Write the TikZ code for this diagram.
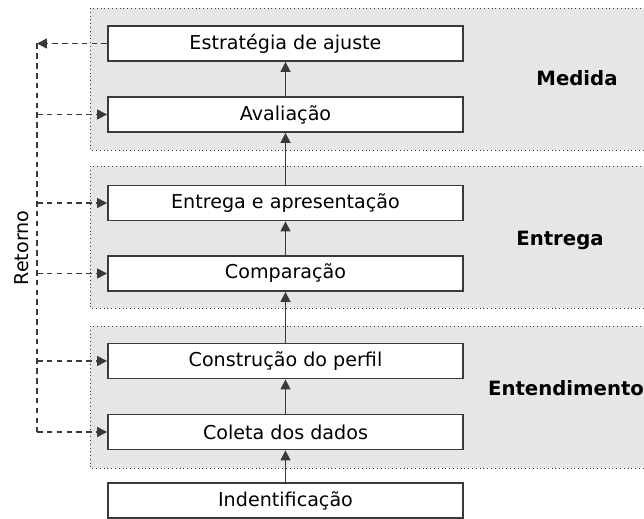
\documentclass[tikz,border=0pt]{standalone}
\usepackage{fontspec}
\setmainfont{DejaVu Sans}
\usetikzlibrary{arrows.meta}
\definecolor{grupo}{HTML}{E6E6E6}
\definecolor{traco}{HTML}{3A3A3A}
\begin{document}
\begin{tikzpicture}[x=0.025cm,y=-0.025cm,
    etapa/.style={draw=traco,line width=1.3pt,fill=white,minimum width=8.875cm,minimum height=0.875cm,inner sep=0pt,font=\fontsize{13.6}{16}\selectfont},
    fase/.style={fill=grupo,draw=traco,dotted,line width=0.7pt},
    rotulo/.style={font=\bfseries\fontsize{14}{16}\selectfont},
    ponta/.style={-{Triangle[length=7pt,width=7pt]}},
    fluxo/.style={ponta,draw=traco,line width=1.1pt},
    volta/.style={draw=traco,line width=1pt,dash pattern=on 4pt off 3pt}]
  \useasboundingbox (0,0) rectangle (644,519);
  % fases
  \draw[fase] (90,8)   rectangle (660,150);
  \draw[fase] (90,166) rectangle (660,308);
  \draw[fase] (90,326) rectangle (660,468);
  \node[rotulo] (medida)  at (577,78)  {Medida};
  \node[rotulo] (entrega) at (560,240) {Entrega};
  \node[rotulo] (entend)  at (566,388) {Entendimento};
  % etapas
  \node[etapa] (estrat)  at (285.5,43.5)  {Estratégia de ajuste};
  \node[etapa] (aval)    at (285.5,114.5) {Avaliação};
  \node[etapa] (apres)   at (285.5,203)   {Entrega e apresentação};
  \node[etapa] (comp)    at (285.5,273.5) {Comparação};
  \node[etapa] (constr)  at (285.5,361)   {Construção do perfil};
  \node[etapa] (coleta)  at (285.5,432)   {Coleta dos dados};
  \node[etapa] (ident)   at (285.5,500.5) {Indentificação};
  \draw[fluxo] (ident)  -- (coleta);
  \draw[fluxo] (coleta) -- (constr);
  \draw[fluxo] (constr) -- (comp);
  \draw[fluxo] (comp)   -- (apres);
  \draw[fluxo] (apres)  -- (aval);
  \draw[fluxo] (aval)   -- (estrat);
  % retorno
  \coordinate (topo) at (37,43.5);
  \coordinate (base) at (37,432);
  \draw[volta,ponta] (estrat.west) -- (topo);
  \draw[volta] (topo) -- (base);
  \foreach \alvo in {aval,apres,comp,constr,coleta}
    \draw[volta,ponta] (37,0 |- \alvo.west) -- (\alvo.west);
  \node[rotate=90,font=\fontsize{13.6}{16}\selectfont] (retorno) at (22,248) {Retorno};
\end{tikzpicture}
\end{document}
